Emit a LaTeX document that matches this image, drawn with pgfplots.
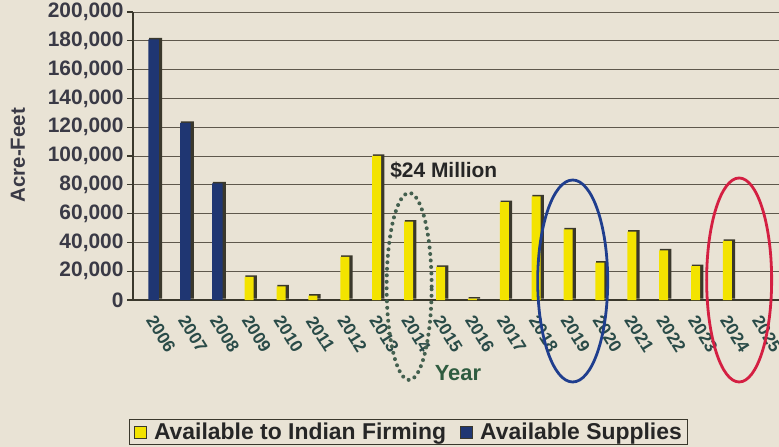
\documentclass[border=0pt]{standalone}
\usepackage{fontspec}
\setmainfont{Liberation Sans}
\usepackage{pgfplots}
\pgfplotsset{compat=1.18}
\definecolor{bg}{HTML}{E9E3D5}
\definecolor{gridc}{HTML}{5E584C}
\definecolor{yel}{HTML}{F3E300}
\definecolor{navy}{HTML}{1F3672}
\definecolor{shadowc}{HTML}{3A382C}
\definecolor{ytxt}{HTML}{3A3A46}
\definecolor{xtxt}{HTML}{2A4B48}
\definecolor{yeargreen}{HTML}{2F5C40}
\definecolor{dotgreen}{HTML}{44604F}
\definecolor{eblue}{HTML}{1F3E8E}
\definecolor{ered}{HTML}{D41F42}
\begin{document}
\begin{tikzpicture}
\fill[bg] (0,0) rectangle (779bp,447bp);
\begin{axis}[
  at={(133bp,147bp)}, anchor=south west,
  scale only axis, width=646bp, height=288bp,
  xmin=2005.34, xmax=2025.6, ymin=0, ymax=200000,
  clip=false,
  axis x line*=bottom, axis y line*=left,
  x axis line style={shadowc, line width=2.6bp},
  y axis line style={shadowc, line width=1.8bp},
  ytick={0,20000,...,200000},
  scaled y ticks=false,
  ymajorgrids, grid style={gridc, line width=0.9bp},
  tick align=outside, major tick length=6bp,
  ytick style={shadowc, line width=1.2bp},
  yticklabel style={font=\bfseries\fontsize{21}{25}\selectfont, text=ytxt,
    /pgf/number format/fixed, /pgf/number format/1000 sep={,},
    /pgf/number format/assume math mode=true},
  xtick={2006,2007,2008,2009,2010,2011,2012,2013,2014,2015,2016,2017,2018,2019,2020,2021,2022,2023,2024,2025},
  xticklabels={2006,2007,2008,2009,2010,2011,2012,2013,2014,2015,2016,2017,2018,2019,2020,2021,2022,2023,2024,2025},
  xtick style={draw=none},
  xticklabel style={font=\bfseries\fontsize{17.5}{20}\selectfont, text=xtxt,
    yshift=-28bp, xshift=7bp, rotate=-58, anchor=center},
  ylabel={Acre-Feet},
  ylabel style={at={(axis description cs:-0.178,0.503)}, anchor=center,
    font=\bfseries\fontsize{20.5}{24}\selectfont, text=ytxt},
  xlabel={Year},
  xlabel style={at={(axis description cs:0.503,-0.253)}, anchor=center,
    font=\bfseries\fontsize{22}{26}\selectfont, text=yeargreen},
  legend style={at={(0.427,-0.505)}, anchor=south, legend columns=2,
    draw=shadowc, line width=1.2bp, fill=bg,
    font=\bfseries\fontsize{23}{26}\selectfont, text=black!85,
    /tikz/every odd column/.append style={column sep=5bp},
    /tikz/every even column/.append style={column sep=12bp},
    inner xsep=4bp, inner ysep=1.5bp},
  legend image code/.code={\draw[#1, draw=shadowc, line width=1.2bp] (0bp,-6bp) rectangle (12bp,6bp);},
]
% yellow series: shadow then bar
\addplot[ybar, fill=shadowc, draw=none, bar width=11.5bp, bar shift=1.5bp, /tikz/yshift=1.5bp, forget plot] table {
x y
2009 16000
2010 9500
2011 3000
2012 30000
2013 100000
2014 54500
2015 23000
2016 1000
2017 68000
2018 72000
2019 49000
2020 26000
2021 47500
2022 34500
2023 23500
2024 41000
};
\addplot[ybar, fill=yel, draw=none, bar width=9bp, bar shift=-0.5bp] table {
x y
2009 16000
2010 9500
2011 3000
2012 30000
2013 100000
2014 54500
2015 23000
2016 1000
2017 68000
2018 72000
2019 49000
2020 26000
2021 47500
2022 34500
2023 23500
2024 41000
};
\addlegendentry{Available to Indian Firming}
% navy series
\addplot[ybar, fill=shadowc, draw=none, bar width=13bp, bar shift=1.5bp, /tikz/yshift=1.5bp, forget plot] table {
x y
2006 181000
2007 123000
2008 81000
};
\addplot[ybar, fill=navy, draw=none, bar width=10.5bp, bar shift=-0.5bp] table {
x y
2006 181000
2007 123000
2008 81000
};
\addlegendentry{Available Supplies}
\node[anchor=west, font=\bfseries\fontsize{21}{24}\selectfont, text=black!85] at (axis cs:2013.3,89600) {\$24 Million};
\draw[dotgreen, line width=4bp, dash pattern=on 0bp off 6.5bp, line cap=round] (axis cs:2014.0,9400) ellipse [x radius=22.5bp, y radius=93.5bp];
\draw[eblue, line width=2.8bp] (axis cs:2019.13,13200) ellipse [x radius=35bp, y radius=101bp];
\draw[ered, line width=2.8bp] (axis cs:2024.35,13900) ellipse [x radius=32.5bp, y radius=102bp];
\end{axis}
\pgfresetboundingbox
\useasboundingbox (0,0) rectangle (779bp,447bp);
\end{tikzpicture}
\end{document}
